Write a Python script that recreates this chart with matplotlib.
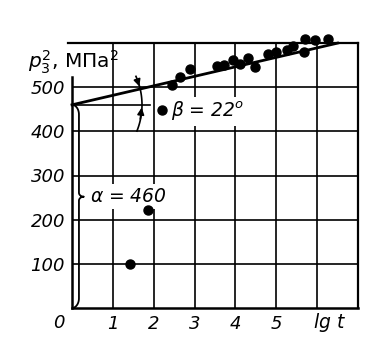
import numpy as np
import matplotlib
matplotlib.use("Agg")
import matplotlib.pyplot as plt

# points
lg_t = [1.42, 1.87, 2.21, 2.44, 2.64, 2.90, 3.54, 3.72, 3.94, 4.12, 4.31, 4.47,
        4.80, 5.00, 5.25, 5.41, 5.67, 5.70, 5.94, 6.27]
p2 = [99, 221, 448, 505, 522, 541, 548, 550, 562, 552, 567, 546,
      575, 579, 585, 594, 580, 609, 606, 610]

alpha = 460
slope = 21.5
x_end = 6.5

x_ticks = [1, 2, 3, 4, 5, 6]
x_labels = ["1", "2", "3", "4", "5", ""]
y_ticks = [100, 200, 300, 400, 500]
y_labels = ["100", "200", "300", "400", "500"]

W, H = 383, 354
fig = plt.figure(figsize=(W / 100, H / 100), dpi=100)
L, R, B, T = 72 / W, 358 / W, 1 - 308 / H, 1 - 43 / H
ax = fig.add_axes([L, B, R - L, T - B])
ax.set_xlim(0, 7)
ax.set_ylim(0, 600)
sx = (R - L) * W / 7      # px per x unit
sy = (T - B) * H / 600    # px per y unit

fnt = dict(style="italic", fontsize=13)

for s in ax.spines.values():
    s.set_visible(False)
ax.set_xticks(x_ticks)
ax.set_xticklabels(x_labels, **fnt)
ax.set_yticks(y_ticks)
ax.set_yticklabels(y_labels, **fnt)
ax.tick_params(length=0, pad=5)
ax.grid(True, color="black", lw=1.2)

# frame
k = "black"
ax.plot([-0.1, 7], [600, 600], color=k, lw=1.6, clip_on=False)
ax.plot([7, 7], [0, 600], color=k, lw=1.6, clip_on=False)
ax.plot([0, 7], [0, 0], color=k, lw=1.8, clip_on=False)
ax.plot([0, 0], [0, 522], color=k, lw=1.8, clip_on=False)

# fitted line and horizontal reference
xs = np.array([0, x_end])
ax.plot(xs, alpha + slope * xs, color=k, lw=2, clip_on=False, zorder=4)
ax.plot([0, 1.9], [alpha, alpha], color=k, lw=1.2)

ax.plot(lg_t, p2, "o", color=k, ms=6.5, clip_on=False, zorder=8)

# brace for alpha
rx, rx2, ry, ry2, ym = 0.17, 0.12, 22, 9, 252
t = np.linspace(0, np.pi / 2, 20)
bx = np.concatenate([rx * np.cos(t[::-1]),
                     rx + rx2 - rx2 * np.cos(t),
                     rx + rx2 - rx2 * np.cos(t[::-1]),
                     rx * np.cos(t)])
by = np.concatenate([alpha - ry + ry * np.sin(t[::-1]),
                     ym + ry2 - ry2 * np.sin(t),
                     ym - ry2 + ry2 * np.sin(t[::-1]),
                     ry - ry * np.sin(t)])
ax.plot(bx, by, color=k, lw=1.3, zorder=4)
ax.text(0.45, 252, r"$\alpha$ = 460", ha="left", va="center", fontsize=13.5,
        style="italic", zorder=6,
        bbox=dict(fc="white", ec="none", pad=2))

# angle beta
r = 70
ang_line = np.arctan(slope * sy / sx)
a = np.linspace(np.radians(24), np.radians(-22), 60)
ax.plot(r * np.cos(a) / sx, alpha + r * np.sin(a) / sy, color=k, lw=1.2, zorder=4)
def arc_pt(deg):
    return (r * np.cos(np.radians(deg)) / sx, alpha + r * np.sin(np.radians(deg)) / sy)
arr = dict(arrowstyle="-|>", color=k, lw=1.2, mutation_scale=10)
ax.annotate("", xy=arc_pt(np.degrees(ang_line)), xytext=arc_pt(23), arrowprops=arr)
ax.annotate("", xy=arc_pt(0), xytext=arc_pt(-14), arrowprops=arr)
ax.text(2.42, 445, r"$\beta$ = 22$^o$", ha="left", va="center", fontsize=13.5,
        style="italic", zorder=6,
        bbox=dict(fc="white", ec="none", pad=2))

# axis titles
ax.text(-1.07, 557, r"$p_3^2$, МПа$^2$", ha="left", va="center", fontsize=14.5)
ax.text(-0.33, -33, "0", ha="center", va="center", **fnt)
ax.text(6.3, -33, r"lg $t$", ha="center", va="center", fontsize=13.5, style="italic")

fig.savefig("out.png", dpi=100)
